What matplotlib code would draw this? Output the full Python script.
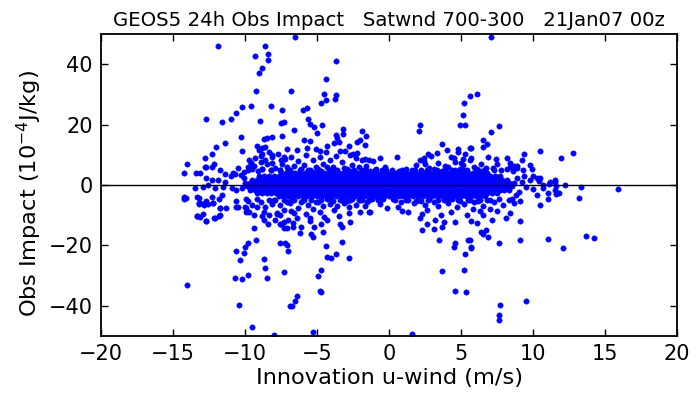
import matplotlib
matplotlib.use("Agg")
import matplotlib.pyplot as plt

# scattered obs far from the main cloud (u-wind innovation, impact)
outliers = [
    (-11.85, 45.9), (-8.6, 45.9), (-9.3, 42.8), (-8.4, 43.3), (-8.4, 41.4), (-8.8, 38.6), (-9.05, 37.2),
    (-9.26, 31.0), (-6.8, 31.0), (-10.2, 25.8), (-9.6, 26.0), (-8.2, 26.1), (-10.6, 23.9), (-7.4, 24.7),
    (-11.0, 21.7), (-12.7, 21.7), (-11.6, 20.8), (-8.96, 21.2), (-7.5, 20.6), (-7.3, 20.8), (-10.3, 15.9),
    (-8.5, 15.4), (-8.7, 15.2), (-8.15, 15.8), (-7.4, 16.1), (-11.4, 13.8), (-12.0, 12.5), (-9.15, 12.9),
    (-9.05, 11.7), (-8.8, 12.2), (-8.6, 12.6), (-10.2, 11.1), (-12.3, 10.3), (-12.75, 8.9), (-14.0, 7.1),
    (-12.15, 6.8), (-12.3, 6.1), (-12.8, 5.8), (-14.2, 4.0), (-13.4, 3.8), (-13.15, 3.8), (-9.7, 8.3),
    (-9.6, 7.2), (-9.8, 6.1), (-8.9, 9.7), (-8.8, 10.3), (-8.1, 9.9), (-8.1, 9.4), (-7.5, 8.3),
    (-9.5, 5.2), (-8.8, 5.3), (-8.1, 7.3), (-11.7, 5.0), (-11.4, 3.7), (-10.7, 3.7), (-10.1, 4.4),
    (-6.55, 49.0), (-3.7, 41.0), (-4.4, 35.0), (-4.5, 30.2), (-4.4, 28.3), (-3.7, 29.7), (-3.75, 28.6),
    (-4.7, 27.0), (-6.0, 24.7), (-5.7, 25.4), (-5.6, 21.9), (-5.5, 20.3), (-6.6, 18.3), (-5.2, 19.1),
    (-4.65, 19.8), (-5.0, 17.2), (-3.2, 18.6), (-3.2, 17.0), (-3.7, 16.6), (-3.6, 15.4), (-3.5, 14.3),
    (-3.8, 13.8), (-4.3, 12.9), (-5.9, 14.8), (-5.5, 14.4), (-1.9, 17.8), (-1.6, 16.1), (-2.0, 15.0),
    (-2.2, 14.1), (-1.7, 13.3), (-2.8, 12.8), (-3.05, 11.4), (-2.7, 10.0), (-2.2, 10.6), (-1.9, 8.3),
    (-1.4, 8.3), (2.15, 19.8), (2.1, 18.0), (5.2, 27.0), (5.1, 23.3), (4.9, 20.0), (5.3, 20.0),
    (5.6, 29.4), (6.1, 30.3), (3.7, 13.7), (4.05, 11.7), (4.8, 12.0), (5.7, 12.3), (0.53, 9.3),
    (2.7, 10.3), (2.4, 8.9), (2.15, 8.1), (-5.1, 11.9), (-4.8, 11.1), (-7.06, 12.0), (-7.3, 9.4),
    (-0.6, 9.0), (5.1, 8.7), (4.5, 8.8), (5.0, 7.3), (5.7, 8.8),
    (7.06, 49.1), (7.66, 19.6), (7.1, 17.4), (6.5, 15.0), (6.8, 13.7), (6.5, 12.7), (5.6, 12.2),
    (10.5, 11.2), (12.8, 10.6), (9.4, 10.2), (11.9, 8.8), (8.2, 8.9), (9.2, 8.3), (8.4, 6.1),
    (8.7, 6.3), (8.9, 5.6), (9.8, 6.7), (9.9, 5.3), (9.3, 5.0), (10.0, 2.8), (10.5, 2.4), (11.2, 1.1),
    (11.5, 1.7), (10.7, 0.0), (11.6, -0.2), (12.2, -0.1), (13.3, -0.8), (15.9, -1.4), (10.3, 2.2),
    (10.4, 1.3), (11.1, 0.3), (11.5, 0.9),
    (10.7, -1.1), (10.3, -3.3), (11.0, -2.8), (11.0, -4.7), (11.5, -1.7), (11.6, -3.1), (11.8, -2.8),
    (10.5, -6.7), (13.2, -4.2), (9.1, -5.2), (9.1, -11.8), (8.1, -11.0), (8.4, -9.4), (7.15, -11.6),
    (6.1, -12.6), (5.7, -11.9), (7.5, -8.7), (7.0, -8.1), (6.55, -10.0), (6.4, -15.6), (6.7, -15.0),
    (6.55, -16.1), (6.9, -17.4), (7.6, -19.1), (9.1, -18.3), (5.7, -20.8), (5.6, -18.3), (11.0, -18.0),
    (12.1, -20.9), (13.7, -16.8), (14.2, -17.6), (9.5, -38.3), (7.7, -39.7), (7.6, -43.0), (7.6, -44.8),
    (-5.3, -48.8), (1.6, -49.3), (-6.75, -40.2), (-6.9, -40.0), (-6.5, -38.3), (-6.4, -36.8),
    (-4.8, -35.3), (-4.7, -35.6), (-4.95, -30.1), (-4.7, -28.3), (-7.3, -29.0), (-7.6, -19.4),
    (-7.1, -19.8), (-7.0, -22.0), (-4.4, -20.1), (-4.3, -23.9), (-4.0, -24.2), (-3.7, -22.8),
    (-3.3, -18.9), (-2.75, -24.1), (-5.4, -16.4), (-5.3, -17.4), (3.7, -28.6), (4.6, -35.3),
    (5.35, -35.6), (5.2, -28.3), (5.3, -22.8), (4.5, -20.6), (4.6, -19.2), (3.5, -18.1), (5.5, -18.1),
    (5.7, -20.6), (2.3, -15.0), (3.1, -14.7), (3.7, -14.1), (3.8, -12.4), (2.6, -12.8), (2.15, -10.9),
    (-0.16, -7.8), (0.65, -7.2), (0.9, -8.6), (1.3, -8.9), (-2.0, -9.1), (-1.4, -8.9), (-1.3, -9.1),
    (-2.7, -12.4), (-3.4, -13.1), (-3.3, -13.9), (-2.8, -9.4), (-6.2, -15.8), (-6.1, -13.9),
    (-6.7, -13.9), (-7.1, -14.4), (-7.3, -12.2), (-7.0, -11.7), (-6.6, -9.4), (-7.6, -10.0),
    (-4.6, -15.6), (-4.7, -12.8), (-4.3, -11.7), (-5.5, -11.1),
    (-14.05, -33.3), (-10.4, -39.8), (-9.5, -47.0), (-8.0, -49.7), (-10.65, -21.9), (-10.35, -24.8),
    (-10.1, -22.6), (-10.0, -20.6), (-9.8, -19.4), (-9.26, -18.3), (-10.7, -30.9), (-10.2, -31.3),
    (-9.8, -30.0), (-8.66, -24.7), (-8.6, -27.4), (-8.45, -30.9), (-7.2, -19.4), (-9.4, -14.2),
    (-8.4, -13.1), (-7.3, -14.2), (-14.2, -4.1), (-14.2, -4.7), (-13.3, -4.1), (-13.2, -6.3),
    (-12.8, -6.1), (-13.3, -10.2), (-12.9, -9.7), (-12.7, -11.9), (-12.1, -10.9), (-11.7, -10.0),
    (-11.7, -7.8), (-12.2, -6.1), (-12.3, -3.9), (-13.1, -6.1), (-11.3, -7.8), (-10.6, -7.2),
    (-10.0, -7.2), (-9.9, -8.9), (-9.4, -10.0), (-9.2, -7.2), (-8.7, -8.9), (-8.7, -11.7),
    (-8.3, -10.0), (-7.9, -11.7), (-7.6, -12.8), (-7.8, -9.4),
    (-12.7, 6.1), (-10.8, 3.9), (-10.5, 5.6), (-11.0, 2.8), (-12.7, 2.2), (-12.3, 1.7), (-11.85, 1.7),
    (-11.4, 1.1), (-12.9, -0.6), (-13.5, -1.1), (-12.55, 0.0), (-12.1, -1.1), (-11.5, -0.6),
    (-10.9, -1.1), (-10.6, -1.7), (-10.2, -1.1), (-10.1, 2.2), (-10.3, 3.3), (-14.1, -4.4),
    (-13.2, -4.4), (-13.2, -5.9), (-12.85, -6.7), (-12.7, -5.2), (-12.55, -6.4), (-12.2, -5.9),
    (-11.8, -4.8), (-11.6, -3.3), (-11.7, -7.6), (-10.6, -5.3), (-10.5, -7.2), (-9.9, -7.8),
    (-9.9, -4.8), (-13.35, -10.3), (-13.1, -10.6), (-12.7, -11.8), (-12.15, -11.0), (-11.8, -10.3),
    (8.9, 2.3), (9.2, 0.9), (9.5, -0.8), (9.0, -2.2), (9.8, 1.6), (10.0, -1.4), (9.4, 3.1), (8.8, -3.4),
]

# looser cloud just above and below the dense band
halo = [
    (-9.8, 5.1), (-9.4, 6.3), (-9.6, 7.4), (-9.1, 4.7), (-9.3, 9.0),
    (-8.8, 5.4), (-8.5, 6.8), (-8.2, 4.9), (-8.6, 8.1), (-8.3, 11.0), (-8.9, 7.6),
    (-7.9, 5.6), (-7.6, 4.8), (-7.4, 6.9), (-7.2, 8.6), (-7.7, 10.4), (-7.1, 5.9),
    (-6.9, 5.0), (-6.6, 6.2), (-6.3, 7.8), (-6.8, 9.3), (-6.1, 5.4), (-6.4, 11.6),
    (-5.9, 6.6), (-5.6, 5.1), (-5.3, 8.2), (-5.8, 9.9), (-5.1, 6.0), (-5.4, 4.7), (-5.7, 12.4),
    (-4.9, 5.3), (-4.6, 7.1), (-4.3, 5.8), (-4.8, 9.2), (-4.1, 8.4), (-4.4, 10.8), (-4.7, 4.6),
    (-3.9, 6.1), (-3.6, 4.9), (-3.3, 7.5), (-3.7, 9.5), (-3.1, 5.5), (-3.4, 11.2),
    (-2.9, 5.2), (-2.6, 6.7), (-2.3, 8.9), (-2.7, 4.6), (-2.1, 6.0), (-2.5, 10.3),
    (-1.9, 5.0), (-1.6, 6.4), (-1.3, 4.7), (-1.1, 7.8), (-1.7, 8.6),
    (-0.9, 5.3), (-0.5, 4.8), (-0.3, 6.1), (0.2, 5.1), (0.7, 4.6),
    (1.2, 5.4), (1.6, 4.8), (1.9, 6.6),
    (2.2, 5.0), (2.5, 6.9), (2.8, 5.6), (2.4, 8.0), (2.9, 9.7),
    (3.1, 5.3), (3.4, 7.2), (3.7, 4.7), (3.9, 6.3), (3.3, 10.6),
    (4.1, 5.9), (4.4, 4.8), (4.6, 7.6), (4.9, 5.4), (4.3, 9.4), (4.8, 10.8),
    (5.1, 6.5), (5.4, 5.0), (5.6, 8.1), (5.9, 6.0), (5.3, 10.2),
    (6.1, 5.2), (6.4, 7.0), (6.7, 5.7), (6.9, 9.1), (6.3, 4.7),
    (7.2, 5.5), (7.5, 6.8), (7.8, 4.9), (7.4, 8.6),
    (8.2, 5.2), (8.6, 4.7), (8.9, 6.4), (8.4, 7.3),
    (-9.8, -5.2), (-9.5, -6.5), (-9.2, -4.8), (-9.7, -9.1),
    (-8.9, -5.6), (-8.6, -7.3), (-8.3, -4.9), (-8.8, -10.2), (-8.1, -6.2),
    (-7.9, -5.0), (-7.6, -6.8), (-7.3, -8.4), (-7.8, -9.7), (-7.1, -5.6), (-7.5, -13.0),
    (-6.9, -6.1), (-6.6, -4.9), (-6.3, -7.6), (-6.8, -8.8), (-6.1, -5.5), (-6.4, -10.9), (-6.7, -12.6),
    (-5.9, -5.1), (-5.6, -6.6), (-5.3, -8.0), (-5.8, -9.6), (-5.1, -5.8), (-5.5, -12.0), (-5.2, -14.1),
    (-4.9, -5.5), (-4.6, -7.0), (-4.3, -4.8), (-4.8, -9.0), (-4.1, -6.4), (-4.5, -10.6),
    (-3.9, -5.2), (-3.6, -6.9), (-3.3, -4.7), (-3.8, -8.3), (-3.1, -6.0), (-3.5, -10.4),
    (-2.9, -5.4), (-2.6, -4.8), (-2.3, -6.5), (-2.1, -5.1), (-2.8, -7.4),
    (-1.9, -4.9), (-1.5, -5.8), (-1.2, -4.6), (-1.7, -7.0),
    (-0.8, -5.0), (-0.4, -4.7), (-0.6, -6.2), (0.3, -4.8), (0.8, -5.5),
    (1.3, -4.9), (1.7, -6.1), (1.9, -5.2),
    (2.2, -5.3), (2.5, -6.8), (2.8, -4.8), (2.6, -8.2), (2.3, -9.5),
    (3.1, -5.6), (3.4, -7.1), (3.8, -5.0), (3.6, -9.8), (3.2, -11.6),
    (4.1, -5.9), (4.4, -4.8), (4.7, -7.4), (4.9, -5.4), (4.3, -9.0), (4.6, -12.3),
    (5.2, -6.4), (5.5, -5.0), (5.8, -8.0), (5.4, -10.1), (5.9, -5.6),
    (6.2, -5.3), (6.5, -6.9), (6.8, -4.9), (6.3, -8.6),
    (7.3, -5.6), (7.6, -4.8), (7.9, -6.7),
    (8.3, -5.1), (8.7, -6.0), (8.5, -4.6),
]

# dense band around zero impact: impact level of each row and its u values
band_imp = [5.0, 3.9, 2.8, 1.7, 0.6, -0.5, -1.6, -2.7, -3.8, -4.9]
band_u = [
    [-8.2, -7.6, -7.0, -6.2, -5.5, -5.0, -4.2, -3.8, -3.0, -2.4, -1.6, -1.0, -0.2, 0.9, 1.8, 2.6,
     3.3, 3.9, 4.6, 5.2, 6.0, 6.6, 7.3],
    [-7.5, -7.17, -6.83, -6.5, -6.17, -5.83, -5.5, -5.17, -4.83, -4.5, -4.17, -3.83, -3.5, -3.17,
     -2.83, -2.5, -2.17, -1.83, -1.5, -1.17, -0.83, -0.5, -0.17, 0.17, 0.5, 0.83, 1.17, 1.5, 1.83,
     2.17, 2.5, 2.83, 3.17, 3.5, 3.83, 4.17, 4.5, 4.83, 5.17, 5.5, 5.83, 6.17, 6.5, 6.83],
    [-9.0, -8.67, -8.33, -8.0, -7.67, -7.33, -7.0, -6.67, -6.33, -6.0, -5.67, -5.33, -5.0, -4.67,
     -4.33, -4.0, -3.67, -3.33, -3.0, -2.67, -2.33, -2.0, -1.67, -1.33, -1.0, -0.67, -0.33, 0.0,
     0.33, 0.67, 1.0, 1.33, 1.67, 2.0, 2.33, 2.67, 3.0, 3.33, 3.67, 4.0, 4.33, 4.67, 5.0, 5.33,
     5.67, 6.0, 6.33, 6.67, 7.0, 7.33, 7.67],
    [-9.5, -9.17, -8.83, -8.5, -8.17, -7.83, -7.5, -7.17, -6.83, -6.5, -6.17, -5.83, -5.5, -5.17,
     -4.83, -4.5, -4.17, -3.83, -3.5, -3.17, -2.83, -2.5, -2.17, -1.83, -1.5, -1.17, -0.83, -0.5,
     -0.17, 0.17, 0.5, 0.83, 1.17, 1.5, 1.83, 2.17, 2.5, 2.83, 3.17, 3.5, 3.83, 4.17, 4.5, 4.83,
     5.17, 5.5, 5.83, 6.17, 6.5, 6.83, 7.17, 7.5, 7.83, 8.17],
    [-10.0, -9.67, -9.33, -9.0, -8.67, -8.33, -8.0, -7.67, -7.33, -7.0, -6.67, -6.33, -6.0, -5.67,
     -5.33, -5.0, -4.67, -4.33, -4.0, -3.67, -3.33, -3.0, -2.67, -2.33, -2.0, -1.67, -1.33, -1.0,
     -0.67, -0.33, 0.0, 0.33, 0.67, 1.0, 1.33, 1.67, 2.0, 2.33, 2.67, 3.0, 3.33, 3.67, 4.0, 4.33,
     4.67, 5.0, 5.33, 5.67, 6.0, 6.33, 6.67, 7.0, 7.33, 7.67, 8.0, 8.33, 8.67],
    [-9.83, -9.5, -9.17, -8.83, -8.5, -8.17, -7.83, -7.5, -7.17, -6.83, -6.5, -6.17, -5.83, -5.5,
     -5.17, -4.83, -4.5, -4.17, -3.83, -3.5, -3.17, -2.83, -2.5, -2.17, -1.83, -1.5, -1.17, -0.83,
     -0.5, -0.17, 0.17, 0.5, 0.83, 1.17, 1.5, 1.83, 2.17, 2.5, 2.83, 3.17, 3.5, 3.83, 4.17, 4.5,
     4.83, 5.17, 5.5, 5.83, 6.17, 6.5, 6.83, 7.17, 7.5, 7.83, 8.17, 8.5],
    [-9.67, -9.33, -9.0, -8.67, -8.33, -8.0, -7.67, -7.33, -7.0, -6.67, -6.33, -6.0, -5.67, -5.33,
     -5.0, -4.67, -4.33, -4.0, -3.67, -3.33, -3.0, -2.67, -2.33, -2.0, -1.67, -1.33, -1.0, -0.67,
     -0.33, 0.0, 0.33, 0.67, 1.0, 1.33, 1.67, 2.0, 2.33, 2.67, 3.0, 3.33, 3.67, 4.0, 4.33, 4.67,
     5.0, 5.33, 5.67, 6.0, 6.33, 6.67, 7.0, 7.33, 7.67, 8.0, 8.33],
    [-9.17, -8.83, -8.5, -8.17, -7.83, -7.5, -7.17, -6.83, -6.5, -6.17, -5.83, -5.5, -5.17, -4.83,
     -4.5, -4.17, -3.83, -3.5, -3.17, -2.83, -2.5, -2.17, -1.83, -1.5, -1.17, -0.83, -0.5, -0.17,
     0.17, 0.5, 0.83, 1.17, 1.5, 1.83, 2.17, 2.5, 2.83, 3.17, 3.5, 3.83, 4.17, 4.5, 4.83, 5.17,
     5.5, 5.83, 6.17, 6.5, 6.83, 7.17, 7.5],
    [-7.67, -7.33, -7.0, -6.67, -6.33, -6.0, -5.67, -5.33, -5.0, -4.67, -4.33, -4.0, -3.67, -3.33,
     -3.0, -2.67, -2.33, -2.0, -1.67, -1.33, -1.0, -0.67, -0.33, 0.0, 0.33, 0.67, 1.0, 1.33, 1.67,
     2.0, 2.33, 2.67, 3.0, 3.33, 3.67, 4.0, 4.33, 4.67, 5.0, 5.33, 5.67, 6.0, 6.33, 6.67],
    [-8.0, -7.3, -6.8, -6.0, -5.4, -4.7, -4.0, -3.4, -2.7, -2.0, -1.4, -0.6, 0.4, 1.2, 2.0, 2.7,
     3.4, 4.1, 4.8, 5.6, 6.3, 7.0],
]

x_ticks = [-20, -15, -10, -5, 0, 5, 10, 15, 20]
y_ticks = [-40, -20, 0, 20, 40]

u_all = [p[0] for p in outliers + halo]
imp_all = [p[1] for p in outliers + halo]
for lev, row in zip(band_imp, band_u):
    u_all += row
    imp_all += [lev] * len(row)

fig = plt.figure(figsize=(6.96, 3.96), dpi=100)
ax = fig.add_axes([0.145, 0.152, 0.828, 0.762])

ax.plot(u_all, imp_all, 'o', color='#0000ff', markeredgecolor='#0000ff',
        markersize=3.9, markeredgewidth=0.3, zorder=2)
ax.axhline(0, color='black', linewidth=1.0, zorder=3)

ax.set_xlim(-20, 20)
ax.set_ylim(-50, 50)
ax.set_xticks(x_ticks)
ax.set_yticks(y_ticks)
ax.tick_params(direction='in', top=True, right=True, length=5, width=1,
               labelsize=15, pad=6)
for s in ax.spines.values():
    s.set_linewidth(1.3)

ax.set_title('GEOS5 24h Obs Impact   Satwnd 700-300   21Jan07 00z', fontsize=14.2, pad=6)
ax.set_xlabel('Innovation u-wind (m/s)', fontsize=16.2, labelpad=3)
ax.set_ylabel('Obs Impact (10$^{-4}$J/kg)', fontsize=16.2)
ax.yaxis.set_label_coords(-0.098, 0.47)

fig.savefig('out.png', dpi=100)
